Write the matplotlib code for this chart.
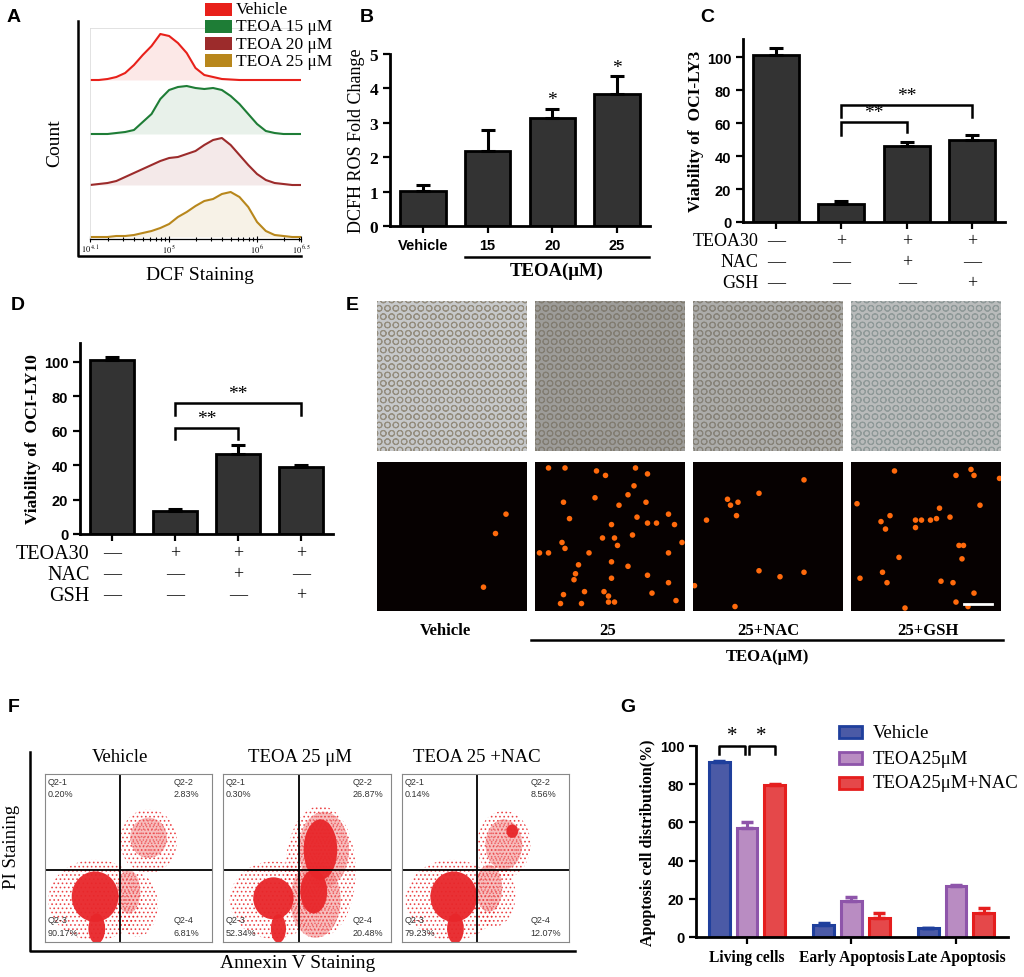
import numpy as np
import matplotlib
matplotlib.use("Agg")
import matplotlib.pyplot as plt
from matplotlib.patches import Rectangle, Ellipse
from matplotlib.transforms import blended_transform_factory

SERIF = ["Liberation Serif", "DejaVu Serif"]
SANS = ["Liberation Sans", "DejaVu Sans"]
plt.rcParams["font.family"] = SERIF
plt.rcParams["mathtext.fontset"] = "stix"
plt.rcParams["hatch.linewidth"] = 0.7

W, H = 1024, 978

# ---------------- data ----------------
# A: DCF histograms (x = log10 fluorescence)
dcf_log = [4.1, 4.2, 4.3, 4.4, 4.5, 4.6, 4.7, 4.8, 4.9, 5.0, 5.1, 5.2, 5.3,
           5.4, 5.5, 5.6, 5.7, 5.8, 5.9, 6.0, 6.1, 6.2, 6.3, 6.4, 6.5]
dcf_names = ["Vehicle", "TEOA 15 μM", "TEOA 20 μM", "TEOA 25 μM"]
dcf_vehicle = [0, 0, 1, 3, 7, 15, 25, 34, 46, 44, 37, 27, 12, 5, 3, 1, 0.5, 0, 0, 0, 0, 0, 0, 0, 0]
dcf_teoa15 = [0, 0, 0, 1, 2, 4, 12, 20, 35, 44, 47, 48, 46, 45, 46, 44, 38, 30, 20, 10, 3, 1, 0, 0, 0]
dcf_teoa20 = [0, 1, 2, 4, 8, 12, 16, 20, 24, 27, 28, 31, 34, 40, 45, 47, 40, 30, 20, 11, 5, 2, 1, 0, 0]
dcf_teoa25 = [0, 0, 0, 1, 1, 2, 4, 6, 9, 13, 20, 25, 31, 36, 38, 43, 45, 40, 30, 15, 6, 2, 1, 0, 0]
dcf_colors = ["#e8201a", "#1e7d36", "#9c2b2b", "#b8871c"]

# B: DCFH ROS fold change
ros_labels = ["Vehicle", "15", "20", "25"]
ros_mean = [1.03, 2.18, 3.15, 3.85]
ros_err = [0.15, 0.62, 0.25, 0.5]
ros_star = ["", "", "*", "*"]

# C / D: viability
ly3_mean = [101, 11, 46, 49.5]
ly3_err = [4.5, 1.5, 2.5, 3]
ly10_mean = [101, 13.5, 46.5, 39]
ly10_err = [2, 1, 5.5, 1]
treat_rows = ["TEOA30", "NAC", "GSH"]
treat_marks = [["—", "+", "+", "+"],
               ["—", "—", "+", "—"],
               ["—", "—", "—", "+"]]
# brackets: (bar1, bar2, top, left leg bottom, right leg bottom)
ly3_brackets = [(1, 2, 60.5, 53, 54.5), (1, 3, 71, 63.5, 63.5)]
ly10_brackets = [(1, 2, 61.5, 55, 55), (1, 3, 76, 69, 69)]

# E: microscopy
img_labels = ["Vehicle", "25", "25+NAC", "25+GSH"]
bf_bg = ["#c6c8ca", "#9d9c99", "#acacaa", "#b9bbbb"]
bf_cells = ["#948d7e", "#827d72", "#878379", "#8f9998"]
fl_x = [
    [0.86, 0.79, 0.71],
    [0.09, 0.20, 0.41, 0.47, 0.67, 0.75, 0.19, 0.40, 0.66, 0.62, 0.74, 0.23, 0.56, 0.68,
     0.51, 0.75, 0.81, 0.89, 0.93, 0.09, 0.03, 0.18, 0.20, 0.36, 0.45, 0.53, 0.55, 0.65,
     0.89, 0.98, 0.29, 0.51, 0.62, 0.27, 0.26, 0.75, 0.51, 0.89, 0.33, 0.46, 0.49, 0.19,
     0.31, 0.17, 0.49, 0.53, 0.78, 0.94],
    [0.74, 0.23, 0.30, 0.25, 0.29, 0.09, 0.44, 0.44, 0.58, 0.74, 0.01, 0.28],
    [0.29, 0.80, 0.82, 0.70, 0.99, 0.04, 0.86, 0.59, 0.26, 0.20, 0.43, 0.47, 0.53, 0.57,
     0.66, 0.23, 0.43, 0.72, 0.75, 0.74, 0.32, 0.21, 0.24, 0.06, 0.60, 0.68, 0.82, 0.70,
     0.78, 0.36],
]
fl_y = [
    [0.35, 0.48, 0.84],
    [0.04, 0.04, 0.06, 0.09, 0.04, 0.08, 0.27, 0.24, 0.16, 0.22, 0.27, 0.38, 0.29, 0.37,
     0.42, 0.41, 0.41, 0.35, 0.42, 0.61, 0.61, 0.54, 0.58, 0.61, 0.51, 0.51, 0.56, 0.49,
     0.61, 0.54, 0.69, 0.67, 0.70, 0.75, 0.79, 0.76, 0.78, 0.81, 0.87, 0.87, 0.90, 0.89,
     0.95, 0.95, 0.94, 0.94, 0.88, 0.93],
    [0.12, 0.25, 0.27, 0.29, 0.36, 0.39, 0.21, 0.73, 0.77, 0.74, 0.83, 0.97],
    [0.06, 0.05, 0.09, 0.09, 0.11, 0.28, 0.29, 0.31, 0.36, 0.40, 0.39, 0.39, 0.39, 0.38,
     0.37, 0.45, 0.44, 0.56, 0.56, 0.65, 0.64, 0.74, 0.81, 0.78, 0.80, 0.81, 0.88, 0.94,
     0.97, 0.98],
]

# F: Annexin V / PI flow plots
flow_titles = ["Vehicle", "TEOA 25 μM", "TEOA 25 +NAC"]
flow_q1 = ["0.20%", "0.30%", "0.14%"]
flow_q2 = ["2.83%", "26.87%", "8.56%"]
flow_q3 = ["90.17%", "52.34%", "79.23%"]
flow_q4 = ["6.81%", "20.48%", "12.07%"]
# population outlines (cx, cy, w, h) in plot fractions
flow_dense = [
    [(0.30, 0.27, 0.28, 0.30), (0.31, 0.08, 0.10, 0.18)],
    [(0.30, 0.26, 0.24, 0.25), (0.33, 0.08, 0.09, 0.17), (0.58, 0.55, 0.20, 0.36),
     (0.54, 0.30, 0.16, 0.26)],
    [(0.31, 0.27, 0.28, 0.30), (0.32, 0.08, 0.10, 0.18), (0.66, 0.66, 0.07, 0.08)],
]
flow_mid = [
    [(0.50, 0.30, 0.14, 0.26), (0.62, 0.62, 0.22, 0.24)],
    [(0.55, 0.25, 0.30, 0.45), (0.60, 0.55, 0.30, 0.45)],
    [(0.52, 0.32, 0.16, 0.28), (0.61, 0.58, 0.22, 0.30)],
]
flow_sparse = [
    [(0.30, 0.25, 0.56, 0.48), (0.55, 0.22, 0.25, 0.38), (0.62, 0.60, 0.34, 0.38)],
    [(0.30, 0.25, 0.52, 0.46), (0.58, 0.42, 0.42, 0.78)],
    [(0.30, 0.25, 0.56, 0.48), (0.55, 0.28, 0.26, 0.38), (0.61, 0.58, 0.32, 0.40)],
]

# G: apoptosis distribution
apo_groups = ["Living cells", "Early Apoptosis", "Late Apoptosis"]
apo_names = ["Vehicle", "TEOA25μM", "TEOA25μM+NAC"]
apo_vehicle = [91.8, 6.3, 4.5]
apo_vehicle_err = [0.3, 1.0, 0.4]
apo_teoa = [57.0, 18.6, 26.5]
apo_teoa_err = [3.3, 2.1, 0.9]
apo_nac = [79.6, 10.1, 12.4]
apo_nac_err = [0.3, 2.3, 2.9]
apo_face = ["#4b5aa6", "#b98cc2", "#e5484a"]
apo_edge = ["#1f3f9c", "#8e55aa", "#e51e1e"]


def rect(x0, y0, x1, y1):
    return [x0 / W, 1 - y1 / H, (x1 - x0) / W, (y1 - y0) / H]


fig = plt.figure(figsize=(W / 100, H / 100), dpi=100)


# ---------------- A ----------------
axA = fig.add_axes(rect(90, 29, 301, 240))
baselines = [159, 105, 54, 2]
for base, vals, col in zip(baselines, [dcf_vehicle, dcf_teoa15, dcf_teoa20, dcf_teoa25], dcf_colors):
    top = base + np.asarray(vals, float)
    axA.fill_between(dcf_log, base, top, color=col, alpha=0.1, lw=0)
    axA.plot(dcf_log, top, color=col, lw=1.5)
axA.set_xlim(4.1, 6.5)
axA.set_ylim(0, 211)
axA.spines["right"].set_visible(False)
for s in ["left", "top"]:
    axA.spines[s].set_color("#dddddd")
    axA.spines[s].set_linewidth(0.6)
axA.spines["bottom"].set_linewidth(0.9)
axA.set_yticks([])
axA.set_xticks([4.1, 5, 6, 6.5])
axA.set_xticklabels([r"$10^{\ 4.1}$", r"$10^{\ 5}$", r"$10^{\ 6}$", r"$10^{\ 6.5}$"], fontsize=6)
axA.set_xticks(np.log10([2e4, 3e4, 4e4, 5e4, 6e4, 7e4, 8e4, 9e4,
                         2e5, 3e5, 4e5, 5e5, 6e5, 7e5, 8e5, 9e5, 2e6, 3e6]), minor=True)
axA.tick_params(axis="x", which="both", direction="inout", length=4, width=0.8, pad=1)
axA.tick_params(axis="x", which="minor", length=2.5)


def style_bar_axes(ax, tickfont):
    for s in ["top", "right"]:
        ax.spines[s].set_visible(False)
    for s in ["left", "bottom"]:
        ax.spines[s].set_linewidth(2)
    ax.tick_params(axis="both", direction="out", length=5, width=1.6)
    for lab in ax.get_yticklabels():
        lab.set_fontfamily(tickfont)
        lab.set_fontweight("bold")


# ---------------- B ----------------
axB = fig.add_axes(rect(390, 55, 650, 227))
xb = np.arange(len(ros_mean))
axB.bar(xb, ros_mean, width=0.7, color="#333333", edgecolor="black", lw=2,
        yerr=[[0] * 4, ros_err], capsize=5,
        error_kw=dict(ecolor="black", elinewidth=2.2, capthick=2.2))
for i, s in enumerate(ros_star):
    if s:
        axB.text(i, ros_mean[i] + ros_err[i] + 0.02, s, ha="center", va="bottom", fontsize=14)
axB.set_xlim(-0.51, 3.51)
axB.set_ylim(0, 5)
axB.set_yticks([0, 1, 2, 3, 4, 5])
axB.set_yticklabels(["0", "1", "2", "3", "4", "5"], fontsize=12.5)
axB.set_xticks(xb)
axB.set_xticklabels(ros_labels, fontfamily=SANS, fontweight="bold", fontsize=10.5)
axB.set_ylabel("DCFH ROS Fold Change", fontsize=13, labelpad=3)
style_bar_axes(axB, SERIF)


# ---------------- C / D ----------------
def viability_panel(box, means, errs, brackets, ylabel, row_y, row_font, row_right):
    ax = fig.add_axes(rect(*box))
    x = np.arange(len(means))
    ax.bar(x, means, width=0.7, color="#333333", edgecolor="black", lw=2,
           yerr=[[0] * 4, errs], capsize=5,
           error_kw=dict(ecolor="black", elinewidth=2.2, capthick=2.2))
    for b1, b2, top, lb, rb in brackets:
        ax.plot([b1, b1, b2, b2], [lb, top, top, rb], color="black", lw=1.8,
                solid_joinstyle="miter", clip_on=False)
        ax.text((b1 + b2) / 2, top + 0.8, "**", ha="center", va="bottom", fontsize=14)
    ax.set_xlim(-0.505, 3.505)
    ax.set_ylim(0, 111)
    ax.set_yticks([0, 20, 40, 60, 80, 100])
    ax.set_yticklabels(["0", "20", "40", "60", "80", "100"], fontsize=10.5)
    ax.set_xticks(x)
    ax.set_xticklabels([])
    ax.set_ylabel(ylabel, fontsize=12.5, fontweight="bold", labelpad=2)
    style_bar_axes(ax, SANS)
    tr = blended_transform_factory(ax.transData, ax.transAxes)
    for r, (name, marks) in enumerate(zip(treat_rows, treat_marks)):
        ax.text(row_right, row_y[r], name, transform=tr, ha="right", va="center",
                fontsize=row_font)
        for i, m in enumerate(marks):
            ax.text(i, row_y[r], m, transform=tr, ha="center", va="center", fontsize=13)
    return ax


viability_panel((743, 40, 1005, 223), ly3_mean, ly3_err, ly3_brackets,
                "Viability of  OCI-LY3", [-0.10, -0.215, -0.33], 13, -0.27)
viability_panel((80, 344, 333, 535), ly10_mean, ly10_err, ly10_brackets,
                "Viability of  OCI-LY10", [-0.10, -0.21, -0.32], 14.5, -0.35)


# ---------------- E ----------------
img_x0 = [377, 535, 693, 851]
for k, x0 in enumerate(img_x0):
    axt = fig.add_axes(rect(x0, 302, x0 + 150, 452))
    axt.add_patch(Rectangle((0, 0), 1, 1, transform=axt.transAxes, facecolor=bf_bg[k],
                            edgecolor=bf_cells[k], hatch="OO", lw=0))
    axt.set_xticks([])
    axt.set_yticks([])
    for s in axt.spines.values():
        s.set_visible(False)

    axb = fig.add_axes(rect(x0, 463, x0 + 150, 612))
    axb.set_facecolor("#060101")
    axb.scatter(fl_x[k], fl_y[k], s=16, color="#ff6a0c", edgecolors="none")
    axb.set_xlim(0, 1)
    axb.set_ylim(1, 0)
    axb.set_xticks([])
    axb.set_yticks([])
    for s in axb.spines.values():
        s.set_visible(False)
    if k == 3:
        axb.plot([0.75, 0.94], [0.95, 0.95], color="white", lw=2)


# ---------------- F ----------------
flow_boxes = [(45, 212), (223, 391), (402, 569)]
for k, (x0, x1) in enumerate(flow_boxes):
    ax = fig.add_axes(rect(x0, 775, x1, 943))
    ax.set_xlim(0, 1)
    ax.set_ylim(0, 1)
    for cx, cy, w, h in flow_sparse[k]:
        ax.add_patch(Ellipse((cx, cy), w, h, facecolor="none", alpha=0.8,
                             edgecolor="#e8262a", hatch="....", lw=0))
    for cx, cy, w, h in flow_mid[k]:
        ax.add_patch(Ellipse((cx, cy), w, h, facecolor="#f28a8a", alpha=0.55,
                             edgecolor="#e8262a", hatch=".....", lw=0))
    for cx, cy, w, h in flow_dense[k]:
        ax.add_patch(Ellipse((cx, cy), w, h, facecolor="#e8262a", alpha=0.95, lw=0))
    ax.axvline(0.45, color="black", lw=1.3)
    ax.axhline(0.43, color="black", lw=1.3)
    qfont = dict(fontfamily=SANS, fontsize=6.5, color="#333333", linespacing=1.5)
    ax.text(0.015, 0.985, "Q2-1\n" + flow_q1[k], va="top", ha="left", **qfont)
    ax.text(0.77, 0.985, "Q2-2\n" + flow_q2[k], va="top", ha="left", **qfont)
    ax.text(0.015, 0.03, "Q2-3\n" + flow_q3[k], va="bottom", ha="left", **qfont)
    ax.text(0.77, 0.03, "Q2-4\n" + flow_q4[k], va="bottom", ha="left", **qfont)
    ax.set_xticks([])
    ax.set_yticks([])
    for s in ax.spines.values():
        s.set_color("#888888")
        s.set_linewidth(0.8)


# ---------------- G ----------------
axG = fig.add_axes(rect(696, 747, 1008, 938))
xg = np.arange(len(apo_groups))
offs = [-0.265, 0.0, 0.265]
for k, (vals, errs) in enumerate([(apo_vehicle, apo_vehicle_err), (apo_teoa, apo_teoa_err),
                                  (apo_nac, apo_nac_err)]):
    axG.bar(xg + offs[k], vals, width=0.2, color=apo_face[k], edgecolor=apo_edge[k], lw=2.2,
            yerr=[[0] * 3, errs], capsize=4,
            error_kw=dict(ecolor=apo_edge[k], elinewidth=2.2, capthick=2.5))
for a, b in [(-0.265, -0.015), (0.015, 0.265)]:
    axG.plot([a, a, b, b], [96, 100, 100, 96], color="black", lw=1.8, clip_on=False)
    axG.text((a + b) / 2, 100.3, "*", ha="center", va="bottom", fontsize=15)
axG.set_xlim(-0.488, 2.498)
axG.set_ylim(0, 100)
axG.set_yticks([0, 20, 40, 60, 80, 100])
axG.set_yticklabels(["0", "20", "40", "60", "80", "100"], fontsize=10.5)
axG.set_xticks(xg)
axG.set_xticklabels(apo_groups, fontweight="bold", fontsize=11.2)
axG.set_ylabel("Apoptosis cell distribution(%)", fontsize=11.5, fontweight="bold", labelpad=3)
style_bar_axes(axG, SANS)


# ---------------- overlay: labels, outer axes, legends ----------------
ov = fig.add_axes([0, 0, 1, 1])
ov.set_xlim(0, W)
ov.set_ylim(H, 0)
ov.axis("off")
ov.patch.set_alpha(0)

letter = dict(fontfamily=SANS, fontweight="bold", fontsize=14, ha="center", va="center")
for s, x, y in [("A", 14, 17), ("B", 367, 17), ("C", 707, 17), ("D", 18, 305),
                ("E", 352, 305), ("F", 14, 707), ("G", 628, 707)]:
    ov.text(x, y, s, **letter)

# A frame, legend, labels
ov.plot([78, 78, 301], [22, 257, 257], color="black", lw=1.8)
for i, (name, col) in enumerate(zip(dcf_names, dcf_colors)):
    yc = 10 + 17.3 * i
    ov.add_patch(Rectangle((205, yc - 6.5), 27, 13, facecolor=col, lw=0))
    ov.text(236, yc, name, fontsize=12.5, va="center", ha="left")
ov.text(55, 143, "Count", rotation=90, fontsize=14, ha="center", va="center")
ov.text(200, 275, "DCF Staining", fontsize=14, ha="center", va="center")

# B group line
ov.plot([465, 649], [258, 258], color="black", lw=1.8)
ov.text(557, 271, "TEOA(μM)", fontsize=13.5, fontweight="bold", ha="center", va="center")

# E labels
for lab, xc in zip(img_labels, [445, 608, 768, 928]):
    ov.text(xc, 631, lab, fontsize=12, fontweight="bold", ha="center", va="center")
ov.plot([531, 1003], [641, 641], color="black", lw=1.8)
ov.text(767, 657, "TEOA(μM)", fontsize=12, fontweight="bold", ha="center", va="center")

# F frame and titles
ov.plot([30, 30, 575], [753, 952, 952], color="black", lw=1.8)
for t, xc in zip(flow_titles, [120, 300, 477]):
    ov.text(xc, 758, t, fontsize=13.5, ha="center", va="center")
ov.text(12, 847, "PI Staining", rotation=90, fontsize=13.5, ha="center", va="center")
ov.text(298, 963, "Annexin V Staining", fontsize=14, ha="center", va="center")

# G legend
for i, name in enumerate(apo_names):
    yc = [733, 759, 784][i]
    ov.add_patch(Rectangle((839, yc - 6), 23, 12, facecolor=apo_face[i],
                           edgecolor=apo_edge[i], lw=2))
    ov.text(873, yc, name, fontsize=13.5, ha="left", va="center")

fig.savefig("out.png", dpi=100)
